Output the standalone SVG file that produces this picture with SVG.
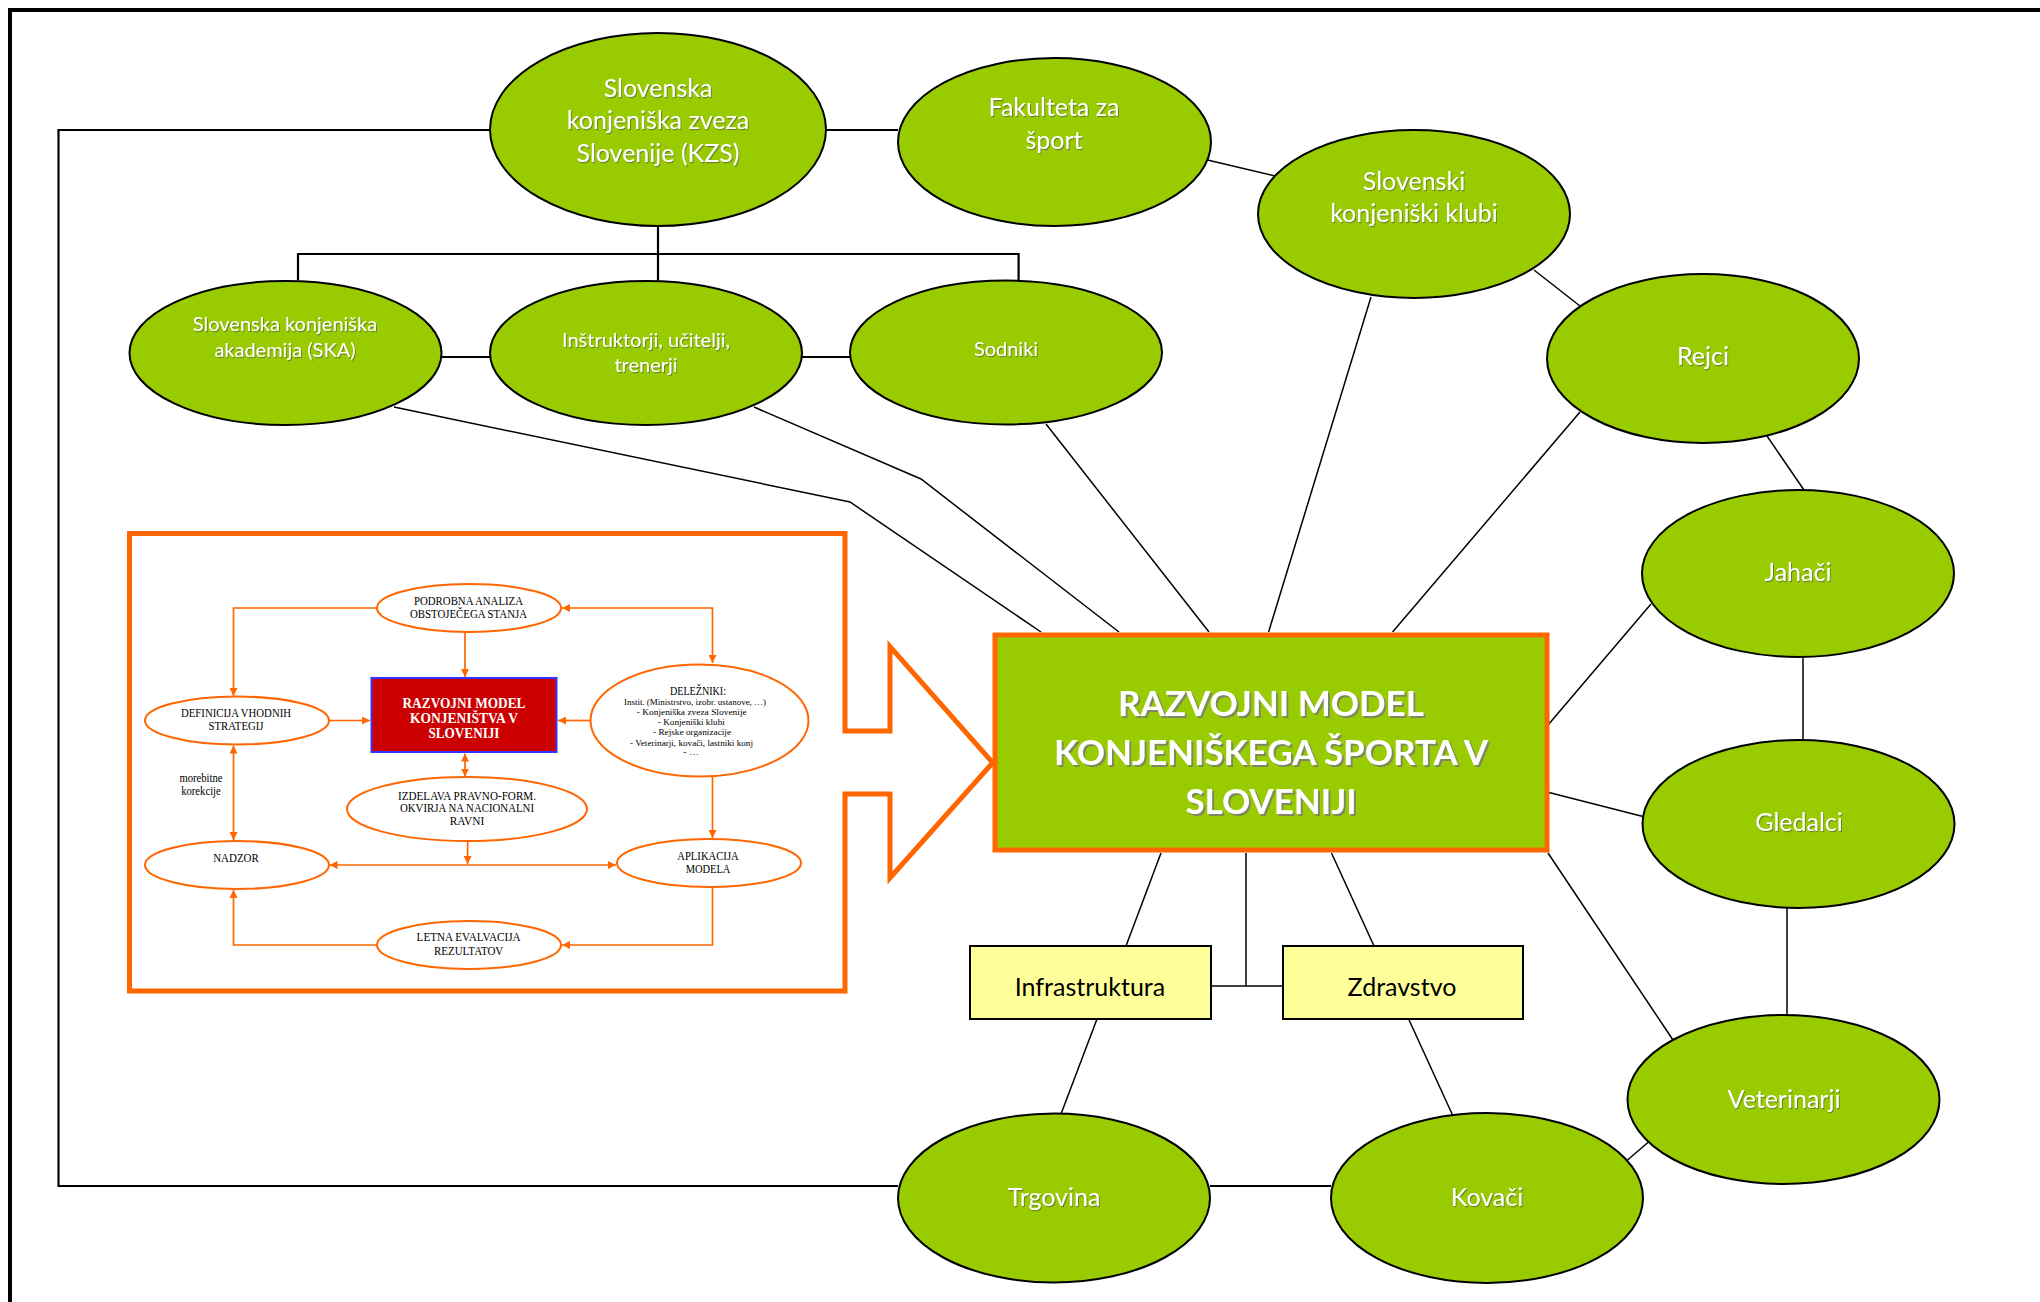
<svg xmlns="http://www.w3.org/2000/svg" width="2040" height="1302" viewBox="0 0 2040 1302">
<defs>
<style>
.bg{fill:#fff}
.ge{fill:#99CC00;stroke:#000;stroke-width:2}
.yb{fill:#FFFF99;stroke:#000;stroke-width:2}
.ln{fill:none;stroke:#000;stroke-width:1.5}
.lt{fill:none;stroke:#000;stroke-width:2.2}
.oe{fill:#fff;stroke:#FF6600;stroke-width:2}
.ol{fill:none;stroke:#FF6600;stroke-width:1.7}
.wt{font-family:Lato,"Open Sans",sans-serif;fill:#fff;text-anchor:middle;font-size:25px;filter:url(#sh)}
.ws{font-size:20px}
.bt{font-family:Lato,"Open Sans",sans-serif;fill:#000;text-anchor:middle;font-size:25px}
.mt{font-family:Lato,"Open Sans",sans-serif;fill:#fff;text-anchor:middle;font-size:35px;font-weight:bold;filter:url(#sh2)}
.st{font-family:"Liberation Serif","Times New Roman",serif;fill:#000;text-anchor:middle;font-size:12px}
.sm{font-size:8.5px}
.rt{font-family:"Liberation Serif","Times New Roman",serif;fill:#fff;text-anchor:middle;font-size:15px;font-weight:bold}
</style>
<filter id="sh" x="-10%" y="-30%" width="120%" height="160%">
<feDropShadow dx="1" dy="1.2" stdDeviation="0.4" flood-color="#444" flood-opacity="0.55"/>
</filter>
<filter id="sh2" x="-10%" y="-30%" width="120%" height="160%">
<feDropShadow dx="2" dy="2" stdDeviation="0.5" flood-color="#777" flood-opacity="0.8"/>
</filter>
<marker id="ah" markerUnits="userSpaceOnUse" markerWidth="8" markerHeight="8" refX="6" refY="3" orient="auto-start-reverse" viewBox="0 0 6 6">
<path d="M0,0 L6,3 L0,6 z" fill="#FF6600"/>
</marker>
</defs>
<rect class="bg" x="0" y="0" width="2040" height="1302"/>
<path d="M10,1302 V10 H2040" fill="none" stroke="#000" stroke-width="4"/>

<g id="connectors">
<path class="lt" d="M490,130 H58.5 V1186 H898"/>
<path class="lt" d="M826,130 H898"/>
<path class="lt" d="M658,226 V281 M298,280 V254 H1018.6 V280"/>
<path class="lt" d="M441,357 H490 M802,357 H850"/>
<path class="ln" d="M1207.5,160 L1275,176"/>
<path class="ln" d="M1534,270 L1580,306"/>
<path class="ln" d="M1767,436 L1804,490"/>
<path class="ln" d="M1803,658 V740"/>
<path class="ln" d="M1787,908 V1015"/>
<path class="ln" d="M1627.5,1160 L1648.5,1142"/>
<path class="lt" d="M1210,1186 H1331"/>
<path class="ln" d="M1371,297 L1268.6,632"/>
<path class="ln" d="M1580,412 L1392.6,632"/>
<path class="ln" d="M1046,424 L1209,632"/>
<path class="ln" d="M394,407 L850,502 L1041,632"/>
<path class="ln" d="M754,407 L921,479 L1119,632"/>
<path class="ln" d="M1548,725 L1651,604"/>
<path class="ln" d="M1547,792 L1643,816.5"/>
<path class="ln" d="M1548,853 L1673,1040"/>
<path class="ln" d="M1161,853 L1126,946"/>
<path class="ln" d="M1246,853 V986 M1211,986 H1283"/>
<path class="ln" d="M1331.5,853 L1374,946"/>
<path class="ln" d="M1097,1019 L1061,1114"/>
<path class="ln" d="M1408.6,1019 L1453,1116"/>
</g>

<g id="inset">
<path d="M845,731 V533.5 H129.5 V991 H845 V794 H890 V878 L992.7,762.7 L890,646.7 V731 Z" fill="none" stroke="#FF6600" stroke-width="5" stroke-linejoin="miter"/>
<g id="inset-connectors">
<path class="ol" d="M377,608 H233.5 V696" marker-end="url(#ah)"/>
<path class="ol" d="M465,632 V677" marker-end="url(#ah)"/>
<path class="ol" d="M562,608 H712.5 V663" marker-start="url(#ah)" marker-end="url(#ah)"/>
<path class="ol" d="M328.5,720.5 H370" marker-end="url(#ah)"/>
<path class="ol" d="M590,720.5 H558" marker-end="url(#ah)"/>
<path class="ol" d="M465,753.5 V776.5" marker-start="url(#ah)" marker-end="url(#ah)"/>
<path class="ol" d="M233.5,745.5 V840" marker-start="url(#ah)" marker-end="url(#ah)"/>
<path class="ol" d="M712.5,777 V838" marker-end="url(#ah)"/>
<path class="ol" d="M329.5,865 H616" marker-start="url(#ah)" marker-end="url(#ah)"/>
<path class="ol" d="M467.6,841 V864" marker-end="url(#ah)"/>
<path class="ol" d="M712.5,887 V945 H562" marker-end="url(#ah)"/>
<path class="ol" d="M377,945 H233.5 V890" marker-end="url(#ah)"/>
</g>
<g id="i-podrobna"><ellipse class="oe" cx="469" cy="608" rx="92" ry="24"/>
<text class="st" x="468.5" y="604.5" textLength="109" lengthAdjust="spacingAndGlyphs">PODROBNA ANALIZA</text>
<text class="st" x="468.5" y="617.5" textLength="117" lengthAdjust="spacingAndGlyphs">OBSTOJEČEGA STANJA</text></g>
<g id="i-definicija"><ellipse class="oe" cx="237" cy="720.5" rx="92" ry="24"/>
<text class="st" x="236" y="717" textLength="110" lengthAdjust="spacingAndGlyphs">DEFINICIJA VHODNIH</text>
<text class="st" x="236" y="730" textLength="55" lengthAdjust="spacingAndGlyphs">STRATEGIJ</text></g>
<g id="i-model"><rect x="371.5" y="678" width="185" height="74" fill="#CC0000" stroke="#3333FF" stroke-width="2"/>
<text class="rt" x="464" y="707.5" textLength="123" lengthAdjust="spacingAndGlyphs">RAZVOJNI MODEL</text>
<text class="rt" x="464" y="722.5" textLength="108" lengthAdjust="spacingAndGlyphs">KONJENIŠTVA V</text>
<text class="rt" x="464" y="737.5" textLength="71" lengthAdjust="spacingAndGlyphs">SLOVENIJI</text></g>
<g id="i-delezniki"><ellipse class="oe" cx="699.5" cy="720.5" rx="109" ry="56"/>
<text class="st" x="698" y="694.5" textLength="56" lengthAdjust="spacingAndGlyphs">DELEŽNIKI:</text>
<text class="st sm" x="695" y="705" textLength="142" lengthAdjust="spacingAndGlyphs">Instit. (Ministrstvo, izobr. ustanove, …)</text>
<text class="st sm" x="691.7" y="715" textLength="110" lengthAdjust="spacingAndGlyphs">-   Konjeniška zveza  Slovenije</text>
<text class="st sm" x="691.3" y="724.5" textLength="67" lengthAdjust="spacingAndGlyphs">-  Konjeniški klubi</text>
<text class="st sm" x="692" y="735.3" textLength="78" lengthAdjust="spacingAndGlyphs">-  Rejske organizacije</text>
<text class="st sm" x="691.5" y="746" textLength="123" lengthAdjust="spacingAndGlyphs">-  Veterinarji, kovači, lastniki konj</text>
<text class="st sm" x="691" y="755" textLength="16" lengthAdjust="spacingAndGlyphs">-  …</text></g>
<g id="i-izdelava"><ellipse class="oe" cx="467" cy="809" rx="120" ry="32"/>
<text class="st" x="467" y="800" textLength="138" lengthAdjust="spacingAndGlyphs">IZDELAVA PRAVNO-FORM.</text>
<text class="st" x="467" y="811.5" textLength="134" lengthAdjust="spacingAndGlyphs">OKVIRJA NA NACIONALNI</text>
<text class="st" x="467" y="824.5" textLength="34.5" lengthAdjust="spacingAndGlyphs">RAVNI</text></g>
<g id="i-nadzor"><ellipse class="oe" cx="237" cy="865" rx="92" ry="24"/>
<text class="st" x="236" y="862" textLength="45.6" lengthAdjust="spacingAndGlyphs">NADZOR</text></g>
<g id="i-aplikacija"><ellipse class="oe" cx="709" cy="863" rx="92" ry="24"/>
<text class="st" x="708" y="859.5" textLength="61.5" lengthAdjust="spacingAndGlyphs">APLIKACIJA</text>
<text class="st" x="708" y="872.5" textLength="44.7" lengthAdjust="spacingAndGlyphs">MODELA</text></g>
<g id="i-letna"><ellipse class="oe" cx="469" cy="945" rx="92" ry="24"/>
<text class="st" x="468.6" y="941" textLength="104" lengthAdjust="spacingAndGlyphs">LETNA EVALVACIJA</text>
<text class="st" x="468.6" y="954.5" textLength="69.4" lengthAdjust="spacingAndGlyphs">REZULTATOV</text></g>
<g id="i-korekcije">
<text class="st" x="201" y="781.5" font-size="10" textLength="43" lengthAdjust="spacingAndGlyphs">morebitne</text>
<text class="st" x="201" y="794.5" font-size="10" textLength="39.6" lengthAdjust="spacingAndGlyphs">korekcije</text></g>
</g>

<g id="kzs"><ellipse class="ge" cx="658" cy="129.5" rx="168" ry="96.5"/>
<text class="wt" x="658" y="96.5">Slovenska</text>
<text class="wt" x="658" y="129.3">konjeniška zveza</text>
<text class="wt" x="658" y="162">Slovenije (KZS)</text></g>
<g id="fakulteta"><ellipse class="ge" cx="1054.5" cy="142" rx="156.5" ry="84"/>
<text class="wt" x="1054" y="116">Fakulteta za</text>
<text class="wt" x="1054" y="149">šport</text></g>
<g id="klubi"><ellipse class="ge" cx="1414" cy="214" rx="156" ry="84"/>
<text class="wt" x="1414" y="189.5">Slovenski</text>
<text class="wt" x="1414" y="222">konjeniški klubi</text></g>
<g id="rejci"><ellipse class="ge" cx="1703" cy="358.5" rx="156" ry="84.5"/>
<text class="wt" x="1703" y="365">Rejci</text></g>
<g id="jahaci"><ellipse class="ge" cx="1798" cy="573.5" rx="156" ry="83.5"/>
<text class="wt" x="1798" y="581">Jahači</text></g>
<g id="gledalci"><ellipse class="ge" cx="1798.5" cy="824" rx="156" ry="84"/>
<text class="wt" x="1799" y="831">Gledalci</text></g>
<g id="veterinarji"><ellipse class="ge" cx="1783.5" cy="1099.5" rx="156" ry="84.5"/>
<text class="wt" x="1784" y="1107.5">Veterinarji</text></g>
<g id="trgovina"><ellipse class="ge" cx="1054" cy="1198" rx="156" ry="84.5"/>
<text class="wt" x="1054" y="1206">Trgovina</text></g>
<g id="kovaci"><ellipse class="ge" cx="1487" cy="1198" rx="156" ry="85"/>
<text class="wt" x="1487" y="1206">Kovači</text></g>
<g id="ska"><ellipse class="ge" cx="285.5" cy="353" rx="156" ry="72"/>
<text class="wt ws" x="285" y="330.5">Slovenska konjeniška</text>
<text class="wt ws" x="285" y="356.5">akademija (SKA)</text></g>
<g id="instruktorji"><ellipse class="ge" cx="646" cy="353" rx="156" ry="72"/>
<text class="wt ws" x="646" y="347">Inštruktorji, učitelji,</text>
<text class="wt ws" x="646" y="372">trenerji</text></g>
<g id="sodniki"><ellipse class="ge" cx="1006" cy="352.5" rx="156" ry="72"/>
<text class="wt ws" x="1006" y="356">Sodniki</text></g>
<g id="infrastruktura"><rect class="yb" x="970" y="946" width="241" height="73"/>
<text class="bt" x="1090" y="995.5">Infrastruktura</text></g>
<g id="zdravstvo"><rect class="yb" x="1283" y="946" width="240" height="73"/>
<text class="bt" x="1402" y="995.5">Zdravstvo</text></g>
<g id="main"><rect x="995" y="635" width="552" height="215" fill="#99CC00" stroke="#FF6600" stroke-width="5"/>
<text class="mt" x="1271" y="716">RAZVOJNI MODEL</text>
<text class="mt" x="1271" y="765">KONJENIŠKEGA ŠPORTA V</text>
<text class="mt" x="1271" y="814">SLOVENIJI</text></g>
</svg>
